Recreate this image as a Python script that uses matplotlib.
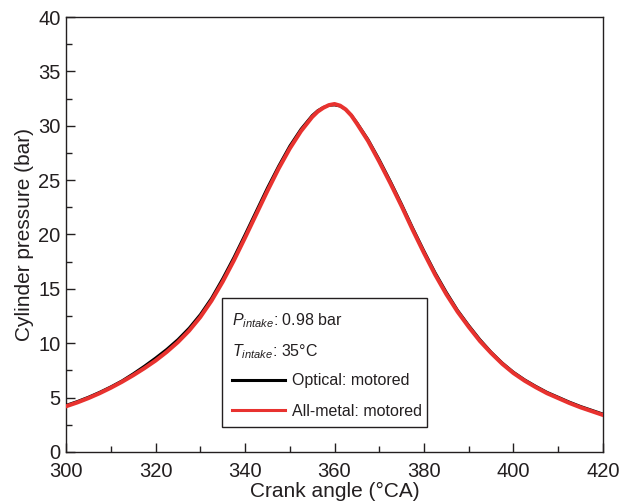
import matplotlib
matplotlib.use("Agg")
import matplotlib.pyplot as plt
from matplotlib.patches import Rectangle

plt.rcParams['font.family'] = ['Liberation Sans', 'DejaVu Sans']
plt.rcParams['mathtext.fontset'] = 'custom'
plt.rcParams['mathtext.rm'] = 'Liberation Sans'
plt.rcParams['mathtext.it'] = 'Liberation Sans:italic'

# -------------------------------
# Data
# -------------------------------
crank_angle = [300, 302.5, 305, 307.5, 310, 312.5, 315, 317.5, 320, 322.5,
               325, 327.5, 330, 332.5, 335, 337.5, 340, 342.5, 345, 347.5,
               350, 352.5, 355,
               356.25, 357.5, 358.75, 360, 361.25, 362.5, 363.75, 365,
               367.5, 370, 372.5, 375, 377.5, 380, 382.5, 385, 387.5, 390,
               392.5, 395, 397.5, 400, 402.5, 405, 407.5, 410, 412.5, 415,
               417.5, 420]

# all-metal engine, motored
p_metal = [4.2, 4.55, 4.95, 5.4, 5.9, 6.45, 7.05, 7.7, 8.4, 9.2,
           10.1, 11.15, 12.4, 13.9, 15.65, 17.6, 19.7, 21.85, 24.0, 26.05,
           27.9, 29.5, 30.8,
           31.3, 31.65, 31.9, 32.0, 31.85, 31.5, 30.95, 30.2,
           28.6, 26.7, 24.7, 22.6, 20.4, 18.3, 16.3, 14.5, 12.9, 11.5,
           10.2, 9.1, 8.1, 7.25, 6.55, 5.95, 5.4, 4.95, 4.5, 4.1,
           3.75, 3.4]

# optical engine, motored
p_optical = [4.3, 4.65, 5.05, 5.5, 6.0, 6.55, 7.2, 7.9, 8.65, 9.45,
             10.35, 11.4, 12.65, 14.15, 15.95, 17.9, 20.0, 22.15, 24.3, 26.3,
             28.15, 29.7, 30.95,
             31.4, 31.7, 31.87, 31.9, 31.8, 31.5, 31.0, 30.3,
             28.75, 26.9, 24.9, 22.8, 20.6, 18.5, 16.5, 14.7, 13.05, 11.65,
             10.35, 9.2, 8.2, 7.35, 6.65, 6.05, 5.5, 5.05, 4.6, 4.2,
             3.85, 3.5]

ink = "#231f20"

fig = plt.figure(figsize=(6.21, 5.03), dpi=100)
ax = fig.add_axes([0.1063, 0.1014, 0.8647, 0.8648])

line_opt, = ax.plot(crank_angle, p_optical, color="black", linewidth=1.9,
                    label="Optical: motored", zorder=3)
line_met, = ax.plot(crank_angle, p_metal, color="#e8322f", linewidth=2.9,
                    label="All-metal: motored", zorder=4)

ax.set_xlim(300, 420)
ax.set_ylim(0, 40)
ax.set_xticks(range(300, 421, 20))
ax.set_xticks(range(310, 420, 20), minor=True)
ax.set_yticks(range(0, 41, 5))
ax.set_yticks([2.5 + 5 * i for i in range(8)], minor=True)

ax.tick_params(which="both", direction="in", top=False, right=False,
               colors=ink, labelsize=14.5, width=1)
ax.tick_params(which="major", length=6.5)
ax.tick_params(axis="x", which="major", pad=7)
ax.tick_params(axis="y", which="major", pad=4)
ax.tick_params(which="minor", length=4)
for s in ax.spines.values():
    s.set_color(ink)
    s.set_linewidth(1)

ax.set_xlabel("Crank angle (°CA)", fontsize=15, color=ink, labelpad=1)
ax.set_ylabel("Cylinder pressure (bar)", fontsize=15, color=ink, labelpad=3)

# -------------------------------
# Legend box with intake conditions
# -------------------------------
ax.add_patch(Rectangle((0.2905, 0.0575), 0.3815, 0.2965, transform=ax.transAxes,
                       fill=False, edgecolor=ink, linewidth=1, zorder=5))
ax.text(0.309, 0.301, r"$P_{intake}$: 0.98 bar", transform=ax.transAxes,
        fontsize=11.5, color=ink, va="center", ha="left", zorder=6)
ax.text(0.309, 0.230, r"$T_{intake}$: 35°C", transform=ax.transAxes,
        fontsize=11.5, color=ink, va="center", ha="left", zorder=6)
leg = ax.legend(handles=[line_opt, line_met], loc="center left",
                bbox_to_anchor=(0.309, 0.1287), frameon=False, fontsize=11.5,
                handlelength=3.3, handletextpad=0.45, labelspacing=0.95,
                borderpad=0, borderaxespad=0)
for t in leg.get_texts():
    t.set_color(ink)
leg.legend_handles[0].set_linewidth(2.2)
leg.legend_handles[1].set_linewidth(2.2)

fig.savefig("out.png", dpi=100)
